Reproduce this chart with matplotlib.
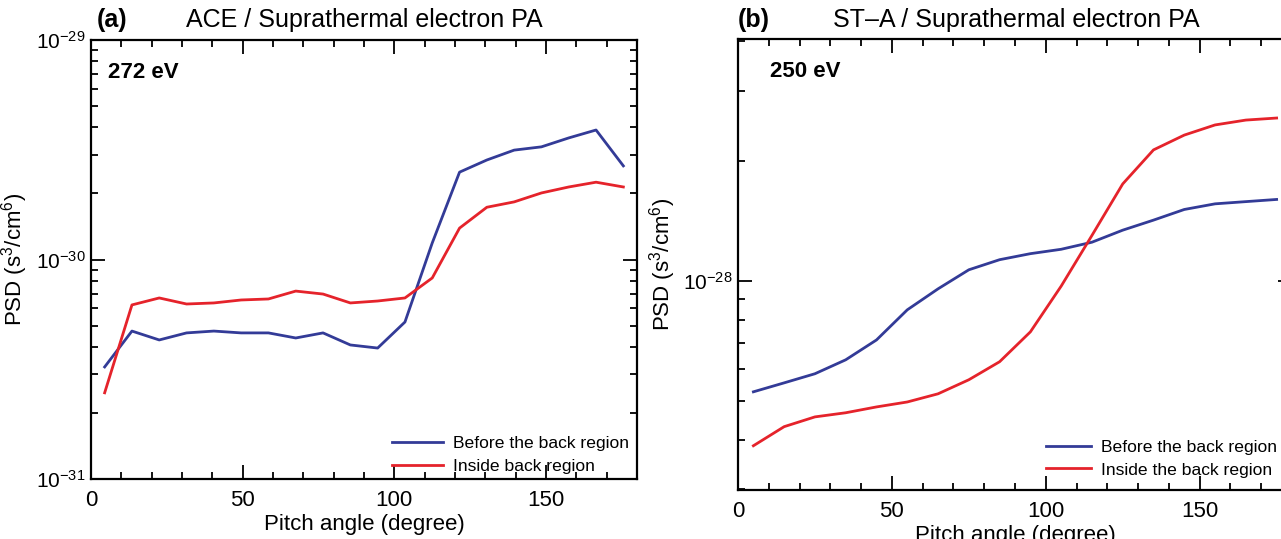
import numpy as np
import matplotlib.pyplot as plt
from matplotlib.ticker import LogLocator, NullFormatter, MultipleLocator

plt.rcParams['font.family'] = ['Liberation Sans', 'DejaVu Sans']
plt.rcParams['mathtext.fontset'] = 'custom'
plt.rcParams['mathtext.rm'] = 'Liberation Sans'
plt.rcParams['mathtext.it'] = 'Liberation Sans:italic'

# panel (a): ACE, 272 eV
pa_ace = [4.5, 13.5, 22.5, 31.5, 40.5, 49.5, 58.5, 67.5, 76.5, 85.5,
          94.5, 103.5, 112.5, 121.5, 130.5, 139.5, 148.5, 157.5, 166.5, 175.5]
ace_before = [3.24e-31, 4.72e-31, 4.30e-31, 4.63e-31, 4.72e-31, 4.63e-31, 4.63e-31, 4.39e-31, 4.63e-31, 4.08e-31,
              3.95e-31, 5.19e-31, 1.19e-30, 2.50e-30, 2.84e-30, 3.15e-30, 3.26e-30, 3.58e-30, 3.89e-30, 2.67e-30]
ace_inside = [2.47e-31, 6.21e-31, 6.68e-31, 6.27e-31, 6.34e-31, 6.54e-31, 6.61e-31, 7.18e-31, 6.96e-31, 6.34e-31,
              6.47e-31, 6.68e-31, 8.24e-31, 1.39e-30, 1.73e-30, 1.83e-30, 2.01e-30, 2.14e-30, 2.25e-30, 2.14e-30]

# panel (b): STEREO-A, 250 eV
pa_sta = [5, 15, 25, 35, 45, 55, 65, 75, 85, 95, 105, 115, 125, 135, 145, 155, 165, 175]
sta_before = [5.27e-29, 5.55e-29, 5.85e-29, 6.34e-29, 7.11e-29, 8.46e-29, 9.55e-29, 1.066e-28, 1.13e-28,
              1.17e-28, 1.20e-28, 1.25e-28, 1.34e-28, 1.42e-28, 1.51e-28, 1.56e-28, 1.58e-28, 1.60e-28]
sta_inside = [3.86e-29, 4.31e-29, 4.56e-29, 4.67e-29, 4.83e-29, 4.97e-29, 5.21e-29, 5.65e-29, 6.27e-29,
              7.45e-29, 9.7e-29, 1.30e-28, 1.75e-28, 2.13e-28, 2.32e-28, 2.46e-28, 2.53e-28, 2.56e-28]

blue = '#333b97'
red = '#e5232b'

fig = plt.figure(figsize=(12.81, 5.39), dpi=100)
ax1 = fig.add_axes([91/1281, 60/539, 546/1281, 439/539])
ax2 = fig.add_axes([738/1281, 49/539, 554/1281, 451/539])


def style(ax):
    ax.set_yscale('log')
    ax.set_xlim(0, 180)
    ax.xaxis.set_major_locator(MultipleLocator(50))
    ax.xaxis.set_minor_locator(MultipleLocator(10))
    ax.yaxis.set_minor_locator(LogLocator(base=10, subs=np.arange(2, 10)))
    ax.yaxis.set_minor_formatter(NullFormatter())
    ax.tick_params(which='both', direction='in', top=True, right=True, width=1.3)
    ax.tick_params(which='major', length=10)
    ax.tick_params(which='minor', length=5)
    ax.tick_params(axis='x', labelsize=16, pad=8)
    ax.tick_params(axis='y', labelsize=15, pad=4)
    for s in ax.spines.values():
        s.set_linewidth(1.6)
    ax.set_xlabel('Pitch angle (degree)', fontsize=16, labelpad=2)
    ax.set_ylabel('PSD (s$^3$/cm$^6$)', fontsize=16)


ax1.plot(pa_ace, ace_before, color=blue, lw=2, label='Before the back region')
ax1.plot(pa_ace, ace_inside, color=red, lw=2, label='Inside back region')
style(ax1)
ax1.set_ylim(1e-31, 1e-29)
ax1.yaxis.set_label_coords(-0.112, 0.5)
ax1.text(0.031, 0.927, '272 eV', transform=ax1.transAxes, fontsize=16, fontweight='bold', va='center')
ax1.legend(loc='lower right', frameon=False, fontsize=12.6, handlelength=2.9, handletextpad=0.57,
           borderaxespad=0.0, borderpad=0.3, labelspacing=0.42, bbox_to_anchor=(0.995, 0.0))

ax2.plot(pa_sta, sta_before, color=blue, lw=2, label='Before the back region')
ax2.plot(pa_sta, sta_inside, color=red, lw=2, label='Inside the back region')
style(ax2)
ax2.set_ylim(2.99e-29, 4.04e-28)
ax2.yaxis.set_label_coords(-0.108, 0.5)
ax2.text(0.058, 0.929, '250 eV', transform=ax2.transAxes, fontsize=16, fontweight='bold', va='center')
ax2.legend(loc='lower right', frameon=False, fontsize=12.6, handlelength=2.55, handletextpad=0.57,
           borderaxespad=0.0, borderpad=0.3, labelspacing=0.42, bbox_to_anchor=(0.982, 0.016))

fig.text(97/1281, 1 - 20/539, '(a)', fontsize=18, fontweight='bold', va='center')
fig.text(364/1281, 1 - 20/539, 'ACE / Suprathermal electron PA', fontsize=18, ha='center', va='center')
fig.text(738/1281, 1 - 20/539, '(b)', fontsize=18, fontweight='bold', va='center')
fig.text(1016/1281, 1 - 20/539, 'ST\u2013A / Suprathermal electron PA', fontsize=18, ha='center', va='center')

fig.savefig('out.png', dpi=100)
